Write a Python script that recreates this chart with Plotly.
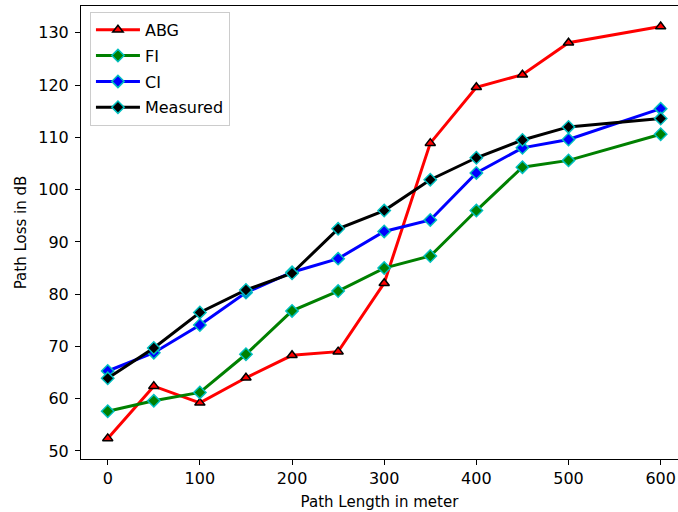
import plotly.graph_objects as go

path_length = [0, 50, 100, 150, 200, 250, 300, 350, 400, 450, 500, 600]
abg = [52.4, 62.4, 59.2, 64.0, 68.3, 69.0, 82.1, 108.9, 119.6, 122.0, 128.1, 131.2]
fi = [57.6, 59.6, 61.2, 68.5, 76.8, 80.6, 85.0, 87.3, 96.0, 104.3, 105.6, 110.6]
ci = [65.3, 68.8, 74.1, 80.3, 84.2, 86.8, 92.0, 94.2, 103.2, 108.0, 109.6, 115.5]
measured = [63.9, 69.7, 76.5, 80.8, 84.0, 92.5, 96.0, 101.9, 106.1, 109.5, 112.0, 113.6]

x_ticks = [0, 100, 200, 300, 400, 500, 600]
y_ticks = [50, 60, 70, 80, 90, 100, 110, 120, 130]

FONT = "DejaVu Sans"
fig = go.Figure()

series = [
    ("ABG", abg, "#ff0000", "triangle-up", "#000000", 9),
    ("FI", fi, "#008000", "diamond", "#00bfbf", 9.5),
    ("CI", ci, "#0000ff", "diamond", "#00bfbf", 9.5),
    ("Measured", measured, "#000000", "diamond", "#00bfbf", 9.5),
]
for name, vals, col, sym, edge, size in series:
    fig.add_trace(go.Scatter(
        x=path_length, y=vals, name=name, mode="lines+markers",
        line=dict(color=col, width=3),
        marker=dict(symbol=sym, size=size, color=col,
                    line=dict(color=edge, width=1.5)),
        legendgroup=name,
    ))

fig.update_layout(
    width=678, height=512,
    margin=dict(l=81, r=0, t=6, b=53),
    paper_bgcolor="white", plot_bgcolor="white",
    font=dict(family=FONT, color="#000000", size=15),
    showlegend=True,
    legend=dict(
        x=0.015, y=0.987, xanchor="left", yanchor="top",
        bgcolor="rgba(255,255,255,0.8)", bordercolor="#cccccc", borderwidth=1,
        font=dict(family=FONT, size=16, color="#000000"),
        tracegroupgap=2, itemwidth=44,
    ),
    xaxis=dict(
        range=[-29.0, 618.8], tickvals=x_ticks, ticks="outside", ticklen=5,
        tickwidth=1, tickcolor="#000", showline=True, linecolor="#000",
        linewidth=1, mirror=True, showgrid=False, zeroline=False,
        tickfont=dict(family=FONT, size=16),
        title=dict(text="Path Length in meter", font=dict(family=FONT, size=15), standoff=9),
    ),
    yaxis=dict(
        range=[48.46, 135.14], tickvals=y_ticks, ticks="outside", ticklen=5,
        tickwidth=1, tickcolor="#000", showline=True, linecolor="#000",
        linewidth=1, showgrid=False, zeroline=False,
        tickfont=dict(family=FONT, size=16), ticklabelstandoff=3,
        title=dict(text="Path Loss in dB", font=dict(family=FONT, size=15), standoff=8),
    ),
)

fig.write_html("out.html", config={"displayModeBar": False},
               post_script="document.body.style.margin='0px';")
